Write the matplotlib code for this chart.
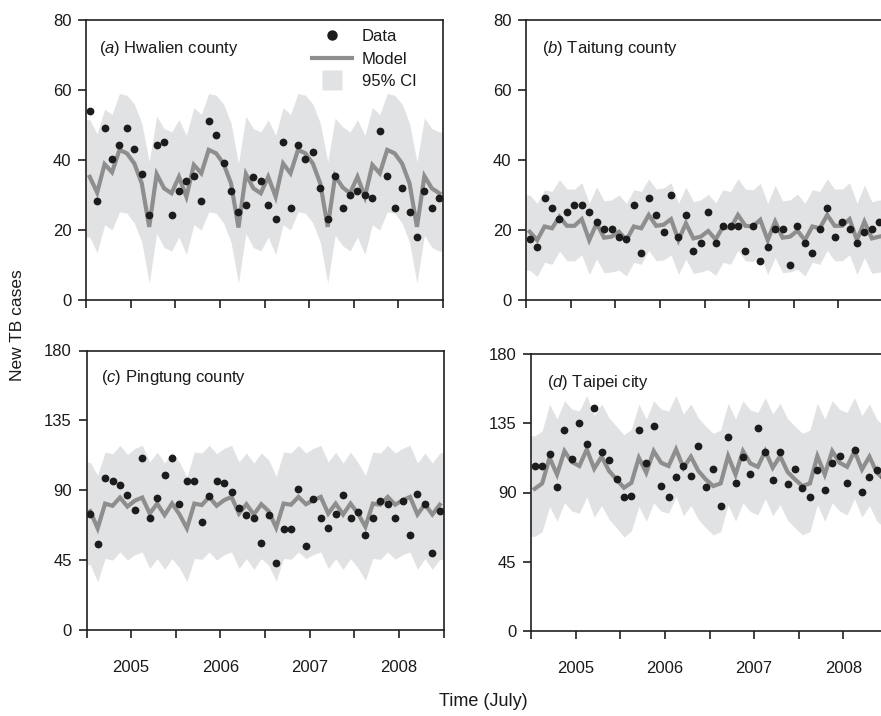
import numpy as np
import matplotlib
matplotlib.use("Agg")
import matplotlib.pyplot as plt
from matplotlib.lines import Line2D

plt.rcParams['font.family'] = ['Liberation Sans', 'DejaVu Sans']
plt.rcParams['mathtext.fontset'] = 'custom'
plt.rcParams['mathtext.it'] = 'Liberation Sans:italic'
plt.rcParams['mathtext.rm'] = 'Liberation Sans'

# ---------------- data (monthly, Jan 2005 - Dec 2008) ----------------
months = np.arange(48) + 0.5
year_ticks = [0, 6, 12, 18, 24, 30, 36, 42, 48]
year_labels = ['', '2005', '', '2006', '', '2007', '', '2008', '']

a_data = [54.0, 28.3, 49.0, 40.2, 44.3, 49.0, 43.0, 36.1, 24.3, 44.3, 45.0, 24.3,
          31.2, 34.1, 35.4, 28.3, 51.2, 47.0, 39.2, 31.2, 25.0, 27.1, 35.2, 34.1,
          27.1, 23.0, 45.0, 26.2, 44.3, 40.2, 42.2, 32.1, 23.0, 35.4, 26.2, 30.0,
          31.2, 30.0, 29.0, 48.4, 35.4, 26.2, 32.0, 25.0, 18.1, 31.1, 26.2, 29.0]
a_model = [35.2, 30.7, 38.8, 36.5, 42.9, 41.9, 39.0, 33.3, 20.9, 36.0, 31.9, 30.5,
           35.2, 29.5, 38.6, 36.2, 42.9, 41.9, 38.9, 33.3, 20.7, 36.0, 31.9, 30.5,
           35.2, 29.5, 39.0, 36.2, 42.9, 41.9, 39.0, 33.3, 20.9, 35.4, 32.2, 30.5,
           35.2, 29.5, 38.6, 36.2, 42.9, 41.9, 39.0, 33.3, 20.9, 35.4, 31.9, 30.5]
a_upper = [51.5, 47.5, 54.5, 53.0, 59.0, 58.5, 56.0, 50.5, 39.5, 52.5, 49.0, 48.0,
           51.5, 47.0, 55.0, 53.0, 59.0, 58.5, 56.0, 50.5, 39.0, 52.5, 49.0, 48.0,
           51.5, 47.0, 55.0, 53.0, 59.0, 58.5, 56.0, 50.5, 39.5, 52.0, 49.5, 48.0,
           51.5, 47.0, 55.0, 53.0, 59.0, 58.5, 56.0, 50.5, 39.5, 52.0, 49.0, 48.0]
a_lower = [18.0, 13.5, 21.5, 20.0, 25.2, 24.8, 22.0, 16.5, 4.8, 19.0, 15.0, 14.0,
           18.0, 13.0, 21.5, 20.0, 25.2, 24.8, 22.0, 16.5, 4.8, 19.0, 15.0, 14.0,
           18.0, 13.0, 21.5, 20.0, 25.2, 24.8, 22.0, 16.5, 4.8, 18.5, 15.5, 14.0,
           18.0, 13.0, 21.5, 20.0, 25.2, 24.8, 22.0, 16.5, 4.8, 18.5, 15.0, 14.0]

b_data = [17.3, 15.2, 29.2, 26.2, 23.0, 25.0, 27.1, 27.1, 25.0, 22.2, 20.2, 20.2,
          18.1, 17.3, 27.1, 13.3, 29.2, 24.3, 19.3, 30.0, 18.1, 24.3, 14.1, 16.2,
          25.0, 16.2, 21.0, 21.0, 21.0, 14.1, 21.0, 11.2, 15.2, 20.2, 20.2, 10.0,
          21.0, 16.2, 13.3, 20.2, 26.4, 18.1, 22.2, 20.2, 16.2, 19.3, 20.2, 22.2]
b_model = [19.5, 17.1, 21.0, 20.5, 23.8, 21.2, 21.2, 23.1, 17.1, 21.9, 17.8, 18.1,
           19.5, 17.1, 21.0, 20.5, 24.3, 21.2, 21.5, 23.1, 17.1, 21.9, 17.6, 18.1,
           19.7, 17.3, 21.0, 20.5, 24.3, 21.2, 21.0, 22.9, 17.1, 22.4, 17.8, 18.1,
           19.8, 17.1, 21.0, 20.5, 24.3, 21.2, 21.2, 23.1, 17.1, 22.4, 17.6, 18.1]
b_upper = [30.0, 27.6, 31.5, 31.0, 34.4, 31.7, 31.7, 33.5, 27.6, 32.3, 28.3, 28.6,
           30.0, 27.6, 31.5, 31.0, 34.6, 31.7, 32.0, 33.5, 27.6, 32.3, 28.1, 28.6,
           30.2, 27.8, 31.5, 31.0, 34.6, 31.7, 31.5, 33.3, 27.6, 32.8, 28.3, 28.6,
           30.3, 27.6, 31.5, 31.0, 34.6, 31.7, 31.7, 33.5, 27.6, 32.8, 28.1, 28.6]
b_lower = [8.5, 6.7, 10.8, 10.2, 14.0, 11.2, 11.2, 12.9, 7.3, 11.7, 7.8, 8.0,
           8.5, 6.9, 10.8, 10.2, 14.2, 11.2, 11.4, 12.9, 7.3, 11.7, 7.6, 8.0,
           8.7, 7.0, 10.8, 10.2, 14.2, 11.2, 11.0, 12.7, 7.3, 12.1, 7.8, 8.0,
           8.8, 6.9, 10.8, 10.2, 14.2, 11.2, 11.2, 12.9, 7.3, 12.1, 7.6, 8.0]

c_data = [75.0, 55.3, 97.9, 96.0, 93.2, 86.8, 77.6, 110.8, 72.4, 85.3, 99.6, 110.8,
          81.4, 96.0, 96.0, 69.6, 86.1, 96.0, 94.9, 88.9, 78.6, 73.9, 72.4, 56.1,
          73.9, 43.3, 64.9, 64.9, 90.6, 54.0, 84.2, 72.4, 66.0, 75.0, 87.2, 72.4,
          76.1, 61.5, 72.4, 83.1, 81.4, 72.4, 83.1, 61.5, 87.9, 81.4, 49.7, 76.7]
c_model = [76.5, 65.5, 81.4, 80.0, 85.3, 79.5, 83.3, 85.3, 75.0, 81.4, 74.0, 81.5,
           74.5, 65.5, 81.4, 80.5, 85.7, 80.0, 83.6, 85.7, 75.0, 81.0, 74.4, 81.0,
           76.5, 65.9, 81.4, 80.7, 85.7, 81.0, 83.6, 85.7, 75.0, 81.4, 74.4, 81.4,
           75.0, 66.5, 81.4, 80.7, 85.7, 80.7, 83.6, 85.7, 74.4, 81.0, 74.4, 80.7]
c_upper = [108.0, 99.6, 114.6, 113.5, 118.9, 113.0, 117.0, 118.9, 108.2, 114.5, 107.5, 114.5,
           108.0, 98.5, 114.6, 114.0, 118.9, 113.5, 117.0, 118.9, 108.2, 114.0, 107.5, 114.0,
           109.5, 99.0, 114.6, 114.0, 118.9, 114.0, 117.0, 118.9, 108.2, 114.5, 107.5, 114.5,
           108.0, 99.5, 114.6, 114.0, 118.9, 114.0, 117.0, 118.9, 107.5, 114.0, 107.5, 114.0]
c_lower = [42.0, 31.1, 46.1, 45.0, 50.3, 45.0, 48.5, 50.3, 39.6, 46.0, 39.0, 46.0,
           40.0, 31.1, 46.1, 45.5, 50.3, 45.0, 48.5, 50.3, 39.6, 46.0, 39.0, 46.0,
           41.5, 31.5, 46.1, 45.5, 50.3, 46.0, 48.5, 50.3, 39.6, 46.0, 39.0, 46.0,
           40.0, 32.0, 46.1, 45.5, 50.3, 45.5, 48.5, 50.3, 39.0, 46.0, 39.0, 45.5]

d_data = [107.2, 107.2, 114.8, 93.5, 130.7, 112.0, 135.0, 121.3, 144.6, 116.6, 111.1, 98.9,
          87.0, 87.6, 130.7, 108.9, 133.3, 94.1, 87.0, 100.0, 107.2, 100.7, 120.2, 93.5,
          105.5, 81.5, 126.1, 96.3, 113.0, 101.8, 131.6, 116.6, 98.1, 116.6, 95.2, 105.5,
          92.6, 87.0, 104.6, 91.5, 108.9, 113.7, 95.9, 117.6, 90.5, 100.0, 104.4, 100.0]
d_model = [92.4, 95.9, 112.6, 101.7, 116.9, 109.8, 107.2, 118.0, 105.5, 113.3, 104.0, 98.5,
           93.1, 96.3, 112.6, 102.9, 116.9, 109.3, 107.2, 118.0, 106.1, 113.3, 104.0, 98.5,
           94.2, 95.9, 113.7, 101.7, 116.9, 108.9, 106.7, 116.9, 106.1, 113.7, 103.3, 98.5,
           94.2, 95.9, 113.7, 101.7, 116.9, 109.3, 106.7, 116.9, 105.0, 113.3, 102.9, 98.5]
d_upper = [126.8, 130.0, 147.4, 137.7, 149.6, 144.2, 143.0, 153.0, 140.0, 147.5, 138.5, 133.0,
           127.5, 131.0, 147.4, 137.7, 149.6, 144.2, 143.0, 153.0, 141.0, 147.5, 138.5, 133.0,
           128.5, 130.5, 148.0, 137.7, 149.6, 143.5, 142.0, 151.5, 141.0, 148.0, 138.0, 133.0,
           128.5, 130.5, 148.0, 137.7, 149.6, 144.0, 142.0, 151.5, 140.0, 147.5, 137.5, 133.0]
d_lower = [61.5, 64.5, 81.0, 71.4, 83.3, 77.9, 76.5, 87.2, 74.0, 81.5, 72.5, 67.0,
           61.0, 65.0, 81.0, 71.4, 83.3, 77.9, 76.5, 87.2, 75.0, 81.5, 72.5, 67.0,
           62.5, 64.5, 82.0, 71.4, 83.3, 77.5, 75.5, 86.0, 75.0, 82.0, 72.0, 67.0,
           62.5, 64.5, 82.0, 71.4, 83.3, 77.9, 75.5, 86.0, 74.0, 81.5, 71.5, 67.0]

panels = [
    ('a', 'Hwalien county', a_data, a_model, a_upper, a_lower, [0, 20, 40, 60, 80], 80),
    ('b', 'Taitung county', b_data, b_model, b_upper, b_lower, [0, 20, 40, 60, 80], 80),
    ('c', 'Pingtung county', c_data, c_model, c_upper, c_lower, [0, 45, 90, 135, 180], 180),
    ('d', 'Taipei city', d_data, d_model, d_upper, d_lower, [0, 45, 90, 135, 180], 180),
]

# ---------------- layout ----------------
W, H = 881, 716
fig = plt.figure(figsize=(W / 100, H / 100), dpi=100)

def pos(l, r, t, b):
    return [l / W, 1 - b / H, (r - l) / W, (b - t) / H]

boxes = [pos(86, 443, 20, 300), pos(526, 883, 20, 300),
         pos(86.5, 443.5, 350.5, 630), pos(531, 888, 354, 631)]
title_xy = [(0.037, 0.883), (0.044, 0.883), (0.04, 0.889), (0.044, 0.882)]

ci_color = '#e1e2e4'
model_color = '#8e8e8e'
dot_color = '#1c1c1c'
spine_color = '#231f20'

for k, (letter, name, dat, mod, up, lo, yt, ymax) in enumerate(panels):
    ax = fig.add_axes(boxes[k])
    xb = np.r_[0, months, 48]
    upb = np.r_[up[0], up, up[-1]]
    lob = np.r_[lo[0], lo, lo[-1]]
    ax.fill_between(xb, lob, upb, color=ci_color, lw=0, zorder=1)
    ax.plot(months, mod, color=model_color, lw=3.0, zorder=2, solid_joinstyle='miter')
    ax.plot(months, dat, ls='none', marker='o', ms=5.6, color=dot_color, mec='none', zorder=3)
    ax.set_xlim(0, 48)
    ax.set_ylim(0, ymax)
    ax.set_yticks(yt)
    ax.set_xticks(year_ticks)
    if k >= 2:
        ax.set_xticklabels(year_labels)
    else:
        ax.set_xticklabels([''] * len(year_ticks))
    for s in ax.spines.values():
        s.set_linewidth(1.2)
        s.set_color(spine_color)
    ax.tick_params(axis='both', direction='out', length=5.5, width=1.2, color=spine_color,
                   labelsize=12, labelcolor='#1a1a1a')
    ax.tick_params(axis='x', pad=16)
    ax.tick_params(axis='y', pad=5)
    ax.text(title_xy[k][0], title_xy[k][1], '($\\mathit{%s}$) %s' % (letter, name),
            transform=ax.transAxes, fontsize=12, ha='left', va='baseline', color='#1a1a1a')
    if k == 0:
        handles = [Line2D([], [], ls='none', marker='o', ms=7.5, color=dot_color, mec='none'),
                   Line2D([], [], color=model_color, lw=3.0),
                   Line2D([], [], ls='none', marker='s', ms=14, color=ci_color, mec='none')]
        ax.legend(handles, ['Data', 'Model', '95% CI'], loc='upper left',
                  bbox_to_anchor=(0.632, 0.968), frameon=False, fontsize=12,
                  handlelength=2.4, handletextpad=0.6, labelspacing=0.46,
                  borderpad=0, borderaxespad=0, labelcolor='#1a1a1a')

fig.text(18 / W, 1 - 325 / H, 'New TB cases', rotation=90, ha='center', va='center',
         fontsize=12.5, color='#1a1a1a')
fig.text(483 / W, 1 - 702 / H, 'Time (July)', ha='center', va='center',
         fontsize=13, color='#1a1a1a')

fig.savefig('out.png', dpi=100)
